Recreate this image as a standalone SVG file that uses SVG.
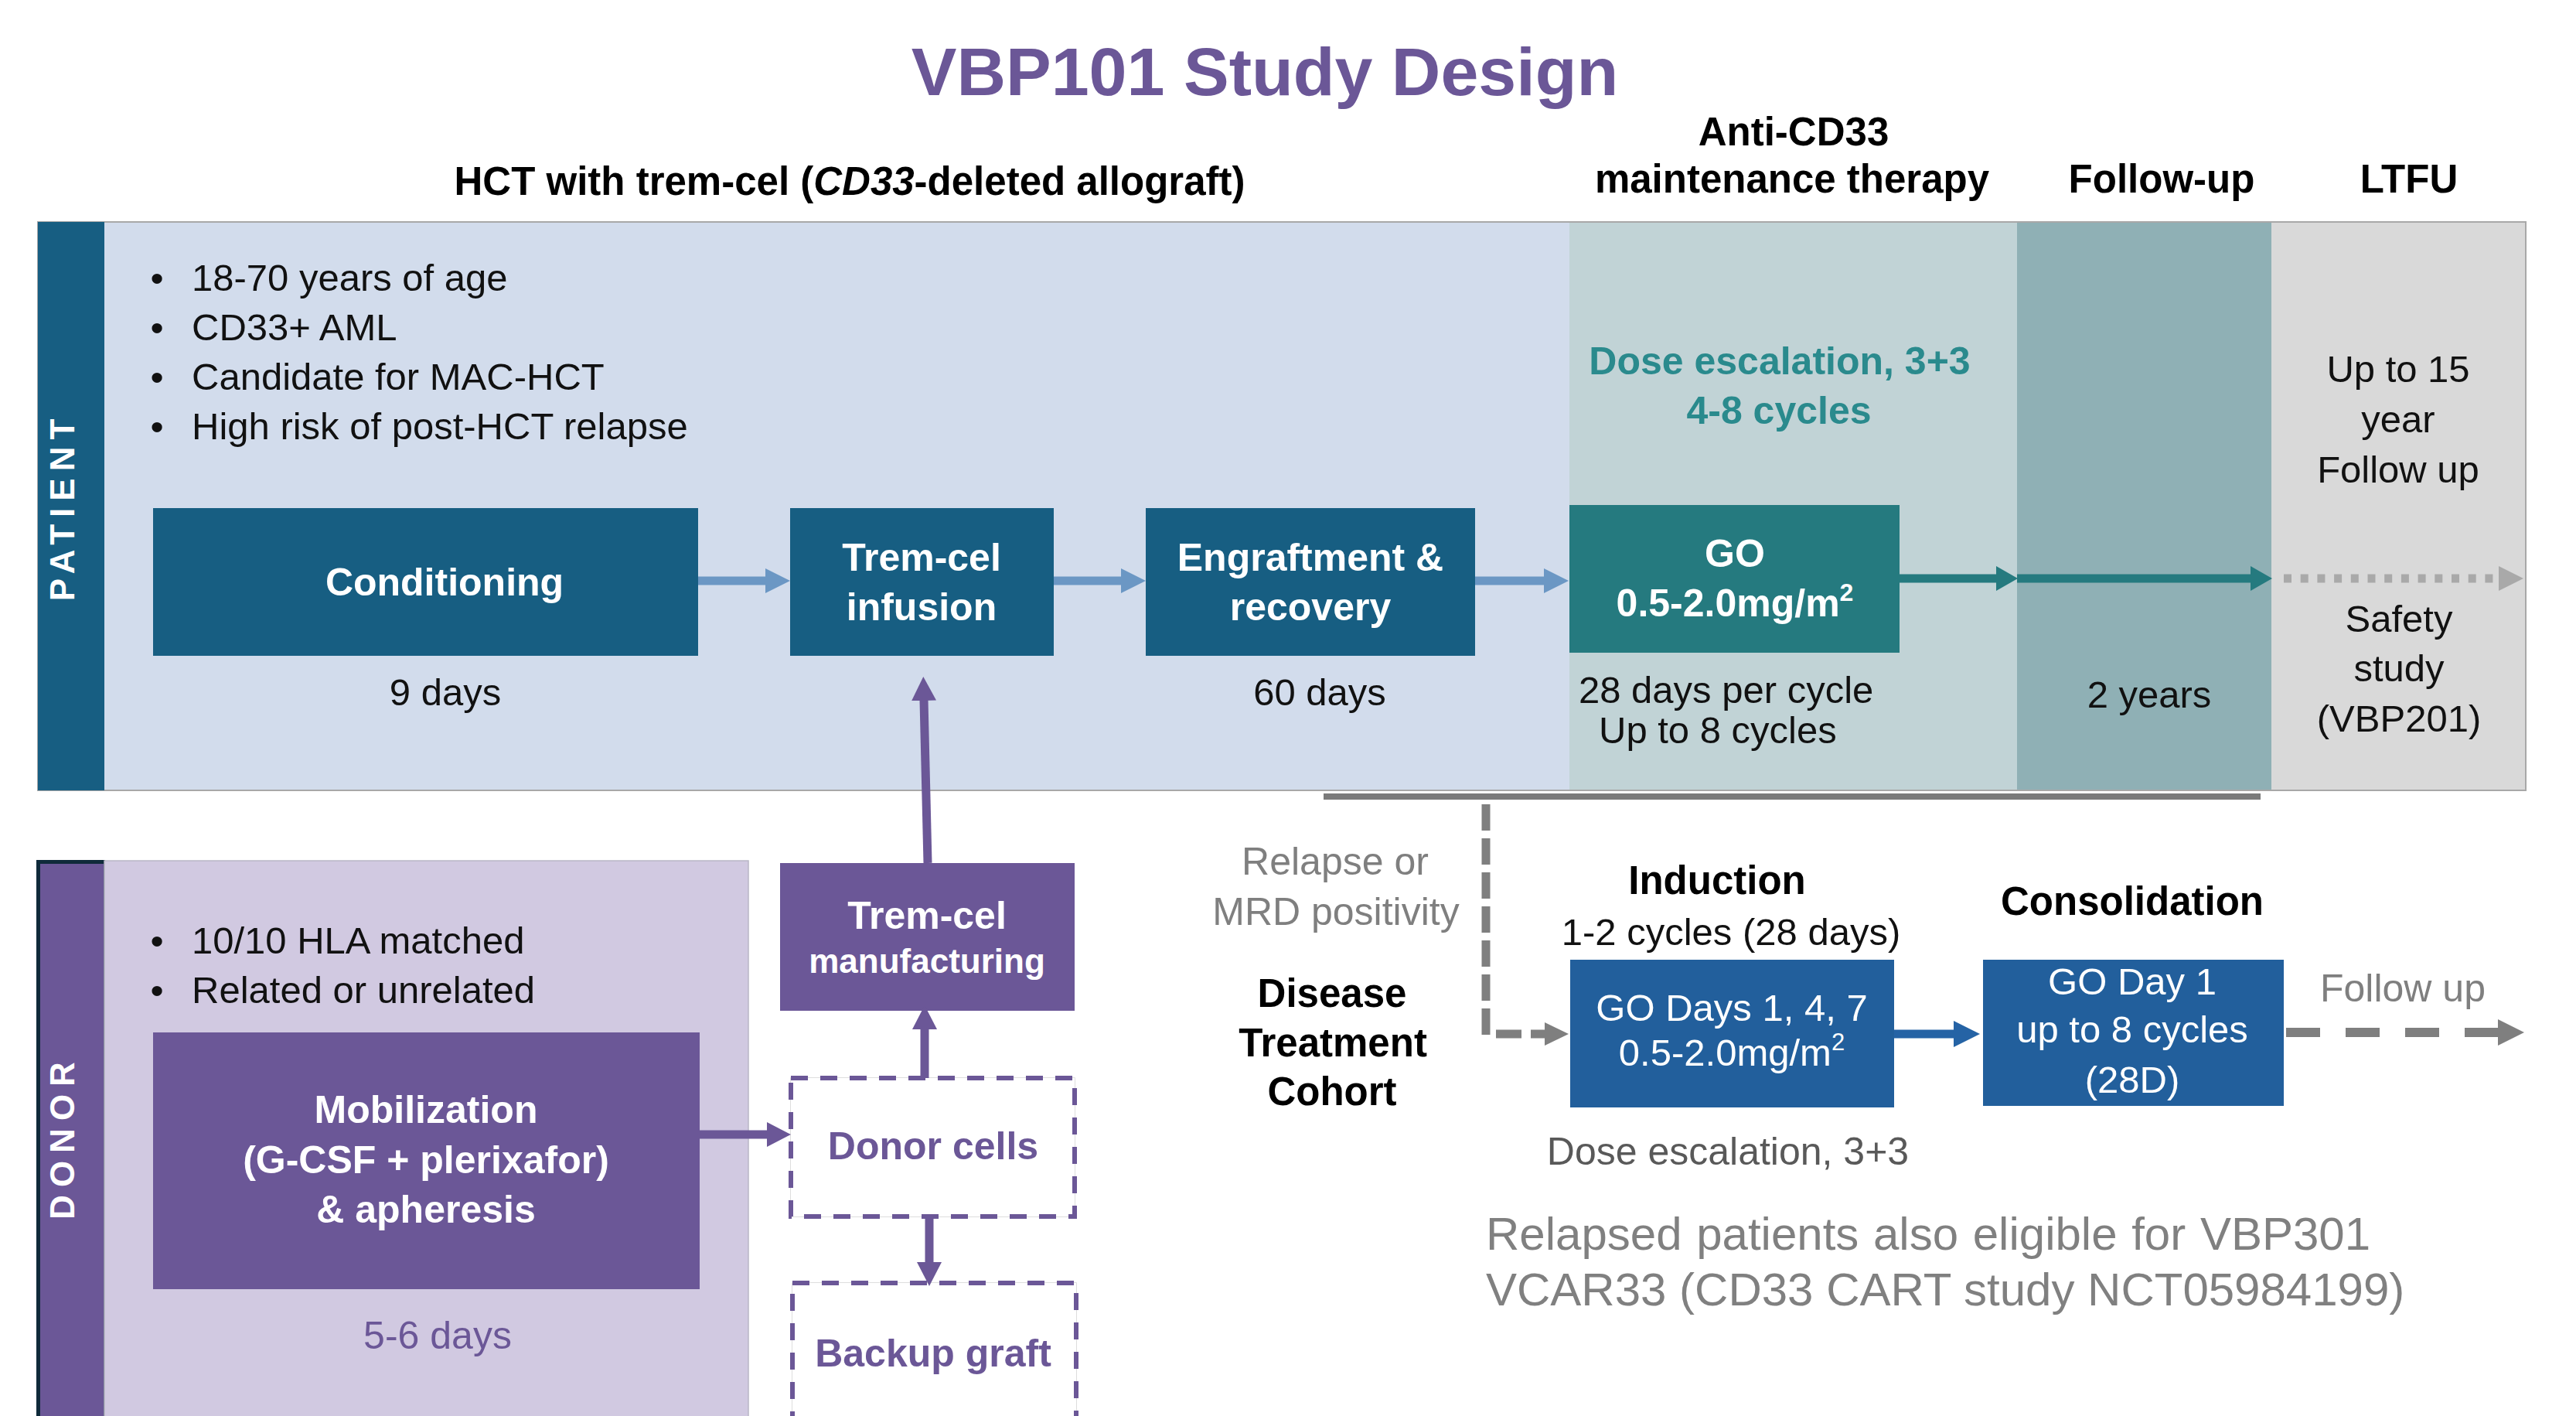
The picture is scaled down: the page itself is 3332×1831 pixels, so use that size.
<svg xmlns="http://www.w3.org/2000/svg" width="3332" height="1831" viewBox="0 0 3332 1831">
  <defs>
    <style>
      text { font-family: "Liberation Sans", Arial, sans-serif; }
      .title { font-size: 88px; font-weight: bold; fill: #6b5797; text-anchor: middle; }
      .hdr { font-size: 51px; font-weight: bold; fill: #000; text-anchor: middle; }
      .body { font-size: 49px; fill: #111; }
      .mid { text-anchor: middle; }
      .boxw { font-size: 50px; font-weight: bold; fill: #fff; text-anchor: middle; }
      .boxr { font-size: 49px; fill: #fff; text-anchor: middle; }
      .small { font-size: 44px; }
      .teal { font-size: 50px; font-weight: bold; fill: #2a8a8d; text-anchor: middle; }
      .gray { font-size: 50px; fill: #7f7f7f; text-anchor: middle; }
      .purp { font-size: 50px; font-weight: bold; fill: #6b5797; text-anchor: middle; }
      .side { font-size: 44px; font-weight: bold; fill: #fff; text-anchor: middle; }
      .note { font-size: 60px; fill: #808080; }
      .pbox { fill: #175e82; }
      .dbox { fill: #6b5797; }
      .nbox { fill: #225f9c; }
      .dash { fill: #fff; stroke: #6b5797; stroke-width: 6; stroke-dasharray: 22 16; }
      .dashbg { fill: none; stroke: #d4d4d4; stroke-width: 1.5; }
      .a-blue { stroke: #6b97c4; stroke-width: 11; fill: none; }
      .a-teal { stroke: #257a7f; stroke-width: 11; fill: none; }
      .a-dot { stroke: #a9a9a9; stroke-width: 11; fill: none; stroke-dasharray: 10 11.7; }
      .a-gray { stroke: #7f7f7f; stroke-width: 12; fill: none; stroke-dasharray: 44 33; }
      .a-rel { stroke: #7f7f7f; stroke-width: 11; fill: none; }
      .a-navy { stroke: #2563a5; stroke-width: 11; fill: none; }
      .a-purp { stroke: #6b5797; stroke-width: 11; fill: none; }
    </style>
    <marker id="hBlue" markerUnits="userSpaceOnUse" markerWidth="32" markerHeight="32" refX="1" refY="16" orient="auto">
      <path d="M0,0 L32,16 L0,32 z" fill="#6b97c4"/>
    </marker>
    <marker id="hTeal" markerUnits="userSpaceOnUse" markerWidth="28" markerHeight="32" refX="1" refY="16" orient="auto">
      <path d="M0,0 L28,16 L0,32 z" fill="#257a7f"/>
    </marker>
    <marker id="hDot" markerUnits="userSpaceOnUse" markerWidth="32" markerHeight="32" refX="0" refY="16" orient="auto">
      <path d="M0,0 L32,16 L0,32 z" fill="#a9a9a9"/>
    </marker>
    <marker id="hGray" markerUnits="userSpaceOnUse" markerWidth="34" markerHeight="34" refX="1" refY="17" orient="auto">
      <path d="M0,0 L34,17 L0,34 z" fill="#7f7f7f"/>
    </marker>
    <marker id="hRel" markerUnits="userSpaceOnUse" markerWidth="31" markerHeight="30" refX="1" refY="15" orient="auto">
      <path d="M0,0 L31,15 L0,30 z" fill="#7f7f7f"/>
    </marker>
    <marker id="hNavy" markerUnits="userSpaceOnUse" markerWidth="34" markerHeight="34" refX="1" refY="17" orient="auto">
      <path d="M0,0 L34,17 L0,34 z" fill="#2563a5"/>
    </marker>
    <marker id="hPurp" markerUnits="userSpaceOnUse" markerWidth="31" markerHeight="32" refX="1" refY="16" orient="auto">
      <path d="M0,0 L31,16 L0,32 z" fill="#6b5797"/>
    </marker>
  </defs>

  <rect x="0" y="0" width="3332" height="1831" fill="#fff"/>

  <!-- Title and phase headers -->
  <g id="headers">
    <text class="title" x="1636" y="123">VBP101 Study Design</text>
    <text class="hdr" x="1099" y="252">HCT with trem-cel (<tspan font-style="italic">CD33</tspan>-deleted allograft)</text>
    <text class="hdr" x="2320" y="188">Anti-CD33</text>
    <text class="hdr" x="2318" y="249">maintenance therapy</text>
    <text class="hdr" x="2796" y="249">Follow-up</text>
    <text class="hdr" x="3116" y="249">LTFU</text>
  </g>

  <!-- Patient lane -->
  <g id="patient-lane">
    <rect x="49" y="287" width="3218" height="735" fill="#d2dcec" stroke="#a8a8a8" stroke-width="2"/>
    <rect x="49" y="287" width="86" height="735" class="pbox"/>
    <rect x="2030" y="288" width="579" height="733" fill="#c1d3d6"/>
    <rect x="2609" y="288" width="329" height="733" fill="#8fb0b5"/>
    <rect x="2938" y="288" width="328" height="733" fill="#d9d9d9"/>
    <text class="side" transform="translate(96,655) rotate(-90)" letter-spacing="9">PATIENT</text>
    <g class="body">
      <text x="203" y="376" class="mid">•</text><text x="248" y="376">18-70 years of age</text>
      <text x="203" y="440" class="mid">•</text><text x="248" y="440">CD33+ AML</text>
      <text x="203" y="504" class="mid">•</text><text x="248" y="504">Candidate for MAC-HCT</text>
      <text x="203" y="568" class="mid">•</text><text x="248" y="568">High risk of post-HCT relapse</text>
    </g>
    <text class="body mid" x="576" y="912">9 days</text>
    <text class="body mid" x="1707" y="912">60 days</text>
    <text class="teal" x="2302" y="484">Dose escalation, 3+3</text>
    <text class="teal" x="2301" y="548">4-8 cycles</text>
    <text class="body" x="2042" y="909">28 days per cycle</text>
    <text class="body" x="2068" y="961">Up to 8 cycles</text>
    <text class="body mid" x="2780" y="915">2 years</text>
    <text class="body mid" x="3102" y="494">Up to 15</text>
    <text class="body mid" x="3102" y="559">year</text>
    <text class="body mid" x="3102" y="624">Follow up</text>
    <text class="body mid" x="3103" y="817">Safety</text>
    <text class="body mid" x="3103" y="881">study</text>
    <text class="body mid" x="3103" y="946">(VBP201)</text>
  </g>

  <g id="conditioning">
    <rect x="198" y="657" width="705" height="191" class="pbox"/>
    <text class="boxw" x="575" y="770">Conditioning</text>
  </g>
  <g id="tremcel-infusion">
    <rect x="1022" y="657" width="341" height="191" class="pbox"/>
    <text class="boxw" x="1192" y="738">Trem-cel</text>
    <text class="boxw" x="1192" y="802">infusion</text>
  </g>
  <g id="engraftment">
    <rect x="1482" y="657" width="426" height="191" class="pbox"/>
    <text class="boxw" x="1695" y="738">Engraftment &amp;</text>
    <text class="boxw" x="1695" y="802">recovery</text>
  </g>
  <g id="go-maintenance">
    <rect x="2030" y="653" width="427" height="191" fill="#257a7f"/>
    <text class="boxw" x="2244" y="733">GO</text>
    <text class="boxw" x="2244" y="797">0.5-2.0mg/m<tspan font-size="32" dy="-20">2</tspan></text>
  </g>

  <!-- Donor lane -->
  <g id="donor-lane">
    <rect x="47" y="1112" width="89" height="740" fill="#0f2a3a"/>
    <rect x="52" y="1117" width="82" height="735" class="dbox"/>
    <rect x="135" y="1113" width="833" height="740" fill="#d1c9e1" stroke="#b9b6c6" stroke-width="1.5"/>
    <text class="side" transform="translate(96,1470) rotate(-90)" letter-spacing="10">DONOR</text>
    <g class="body">
      <text x="203" y="1233" class="mid">•</text><text x="248" y="1233">10/10 HLA matched</text>
      <text x="203" y="1297" class="mid">•</text><text x="248" y="1297">Related or unrelated</text>
    </g>
    <text x="566" y="1744" font-size="50" fill="#6b5797" text-anchor="middle">5-6 days</text>
  </g>

  <g id="mobilization">
    <rect x="198" y="1335" width="707" height="332" class="dbox"/>
    <text class="boxw" x="551" y="1452">Mobilization</text>
    <text class="boxw" x="551" y="1517">(G-CSF + plerixafor)</text>
    <text class="boxw" x="551" y="1581">&amp; apheresis</text>
  </g>
  <g id="tremcel-manufacturing">
    <rect x="1009" y="1116" width="381" height="191" class="dbox"/>
    <text class="boxw" x="1199" y="1201">Trem-cel</text>
    <text class="boxw small" x="1199" y="1258">manufacturing</text>
  </g>
  <g id="donor-cells">
    <rect x="1023" y="1394" width="367" height="179" class="dashbg"/>
    <rect x="1023" y="1394" width="367" height="179" class="dash"/>
    <text class="purp" x="1207" y="1499">Donor cells</text>
  </g>
  <g id="backup-graft">
    <rect x="1025" y="1659" width="367" height="240" class="dashbg"/>
    <rect x="1025" y="1659" width="367" height="240" class="dash"/>
    <text class="purp" x="1207" y="1767">Backup graft</text>
  </g>

  <!-- Disease treatment cohort -->
  <g id="cohort-labels">
    <rect x="1712" y="1026" width="1212" height="8" fill="#7a7a7a"/>
    <text class="gray" x="1727" y="1131">Relapse or</text>
    <text class="gray" x="1728" y="1196">MRD positivity</text>
    <text class="hdr" x="1723" y="1302">Disease</text>
    <text class="hdr" x="1724" y="1366">Treatment</text>
    <text class="hdr" x="1723" y="1429">Cohort</text>
    <text class="hdr" x="2221" y="1156">Induction</text>
    <text class="body mid" x="2239" y="1222">1-2 cycles (28 days)</text>
    <text class="hdr" x="2758" y="1183">Consolidation</text>
    <text class="gray" x="3108" y="1295">Follow up</text>
    <text x="2235" y="1506" font-size="50" fill="#595959" text-anchor="middle">Dose escalation, 3+3</text>
    <text class="note" x="1922" y="1616" word-spacing="2">Relapsed patients also eligible for VBP301</text>
    <text class="note" x="1922" y="1688">VCAR33 (CD33 CART study NCT05984199)</text>
  </g>
  <g id="induction">
    <rect x="2031" y="1241" width="419" height="191" class="nbox"/>
    <text class="boxr" x="2240" y="1320">GO Days 1, 4, 7</text>
    <text class="boxr" x="2240" y="1378">0.5-2.0mg/m<tspan font-size="31" dy="-20">2</tspan></text>
  </g>
  <g id="consolidation">
    <rect x="2565" y="1241" width="389" height="189" class="nbox"/>
    <text class="boxr" x="2758" y="1286">GO Day 1</text>
    <text class="boxr" x="2758" y="1348">up to 8 cycles</text>
    <text class="boxr" x="2758" y="1413">(28D)</text>
  </g>

  <!-- Connectors -->
  <g id="connectors">
    <line class="a-blue" x1="903" y1="751" x2="991" y2="751" marker-end="url(#hBlue)"/>
    <line class="a-blue" x1="1363" y1="751" x2="1451" y2="751" marker-end="url(#hBlue)"/>
    <line class="a-blue" x1="1908" y1="751" x2="1998" y2="751" marker-end="url(#hBlue)"/>
    <line class="a-teal" x1="2457" y1="748" x2="2583" y2="748" marker-end="url(#hTeal)"/>
    <line class="a-teal" x1="2609" y1="748" x2="2912" y2="748" marker-end="url(#hTeal)"/>
    <line class="a-dot" x1="2954" y1="748" x2="3232" y2="748" marker-end="url(#hDot)"/>
    <line class="a-purp" x1="1200" y1="1116" x2="1195" y2="905" marker-end="url(#hPurp)"/>
    <line class="a-purp" x1="1196" y1="1394" x2="1196" y2="1330" marker-end="url(#hPurp)"/>
    <line class="a-purp" x1="905" y1="1467" x2="993" y2="1467" marker-end="url(#hPurp)"/>
    <line class="a-purp" x1="1202" y1="1573" x2="1202" y2="1633" marker-end="url(#hPurp)"/>
    <line class="a-rel" x1="1922" y1="1040" x2="1922" y2="1342" stroke-dasharray="34 10"/>
    <line class="a-rel" x1="1935" y1="1337" x2="1999" y2="1337" stroke-dasharray="33 12" marker-end="url(#hRel)"/>
    <line class="a-navy" x1="2450" y1="1337" x2="2528" y2="1337" marker-end="url(#hNavy)"/>
    <line class="a-gray" x1="2957" y1="1335" x2="3232" y2="1335" marker-end="url(#hGray)"/>
  </g>
</svg>
